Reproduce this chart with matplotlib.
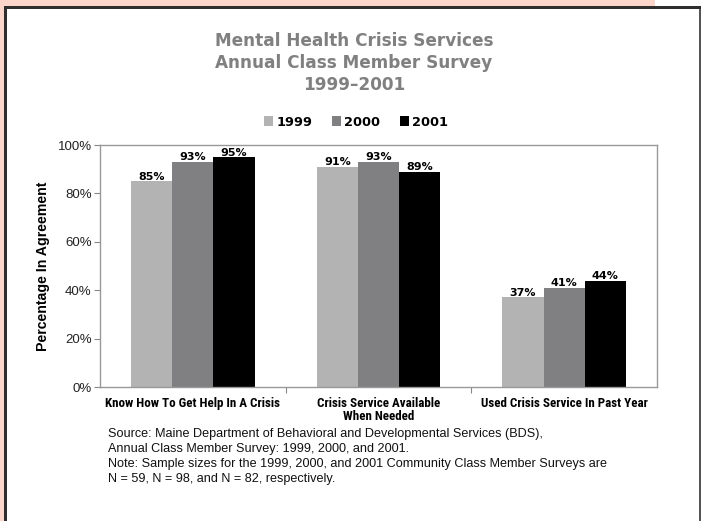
import matplotlib
matplotlib.use('Agg')
import matplotlib.pyplot as plt
import numpy as np
from matplotlib.patches import Rectangle
from matplotlib.ticker import PercentFormatter

categories = ["Know How To Get Help In A Crisis",
              "Crisis Service Available\nWhen Needed",
              "Used Crisis Service In Past Year"]
years = ["1999", "2000", "2001"]
values_1999 = [85, 91, 37]
values_2000 = [93, 93, 41]
values_2001 = [95, 89, 44]
bar_colors = ['#b3b3b3', '#808083', '#000000']

title_lines = "Mental Health Crisis Services\nAnnual Class Member Survey\n1999\u20132001"
footnote = ("Source: Maine Department of Behavioral and Developmental Services (BDS),\n"
            "Annual Class Member Survey: 1999, 2000, and 2001.\n"
            "Note: Sample sizes for the 1999, 2000, and 2001 Community Class Member Surveys are\n"
            "N = 59, N = 98, and N = 82, respectively.")

condensed = ['Roboto Condensed', 'DejaVu Sans']
heavy = ['DejaVu Sans']
plt.rcParams['font.family'] = ['Liberation Sans', 'DejaVu Sans']

W, H = 701, 521
fig = plt.figure(figsize=(W / 100, H / 100), dpi=100, facecolor='white')

# page frame: pink backdrop, dark border at top and left
fig.patches.append(Rectangle((0, 1 - 6 / H), 655 / W, 6 / H, transform=fig.transFigure,
                             facecolor='#fbd4ca', edgecolor='none', zorder=0))
fig.patches.append(Rectangle((0, 0), 4 / W, 1, transform=fig.transFigure,
                             facecolor='#fbd4ca', edgecolor='none', zorder=0))
fig.patches.append(Rectangle((4 / W, 1 - 9 / H), 697 / W, 3 / H, transform=fig.transFigure,
                             facecolor='#2e2e2e', edgecolor='none', zorder=1))
fig.patches.append(Rectangle((4 / W, 0), 3 / W, 1 - 6 / H, transform=fig.transFigure,
                             facecolor='#2e2e2e', edgecolor='none', zorder=1))
fig.patches.append(Rectangle((699 / W, 0), 1.5 / W, 1 - 9 / H, transform=fig.transFigure,
                             facecolor='#555555', edgecolor='none', zorder=1))

ax = fig.add_axes([100 / W, 1 - 387 / H, 557 / W, 242 / H])

x = np.arange(len(categories))
width = 0.222
series = [values_1999, values_2000, values_2001]
for i, (vals, col, yr) in enumerate(zip(series, bar_colors, years)):
    pos = x + (i - 1) * width
    bars = ax.bar(pos, vals, width, color=col, label=yr, zorder=2)
    for b, v in zip(bars, vals):
        ax.text(b.get_x() + b.get_width() / 2, v + 0.6, f"{v}%", ha='center', va='baseline',
                fontsize=8, fontweight='bold', family=heavy)

ax.set_xlim(-0.5, 2.5)
ax.set_ylim(0, 100)
ax.set_yticks(np.arange(0, 101, 20))
ax.yaxis.set_major_formatter(PercentFormatter(decimals=0))
ax.tick_params(axis='y', labelsize=9.5, length=4, color='#888888', pad=2, labelcolor='#222222')
ax.set_xticks([0.5, 1.5])
ax.set_xticklabels([])
ax.tick_params(axis='x', length=4, color='#888888')
for xi, cat in zip(x, categories):
    ax.text(xi, -4.0, cat, ha='center', va='top', fontsize=9.4, fontweight='bold',
            family=condensed, linespacing=1.05)

for s in ax.spines.values():
    s.set_color('#999999')
    s.set_linewidth(1.0)

ax.set_ylabel("Percentage In Agreement", fontsize=10.2, fontweight='bold')
ax.yaxis.set_label_coords(-0.09, 0.5)

fig.text(354 / W, 1 - 32 / H, title_lines, ha='center', va='top', fontsize=12.2,
         fontweight='bold', color='#808080', family=heavy, linespacing=1.28)

handles = [Rectangle((0, 0), 1, 1, facecolor=c) for c in bar_colors]
fig.legend(handles, years, loc='center', bbox_to_anchor=(356 / W, 1 - 122 / H), ncol=3,
           frameon=False, handlelength=0.7, handleheight=0.7, handletextpad=0.25,
           columnspacing=1.5, prop={'family': heavy, 'weight': 'bold', 'size': 9.3})

fig.text(108 / W, 1 - 428 / H, footnote, ha='left', va='top', fontsize=9.1,
         color='#111111', linespacing=1.32)

fig.savefig('out.png', dpi=100, facecolor='white')
